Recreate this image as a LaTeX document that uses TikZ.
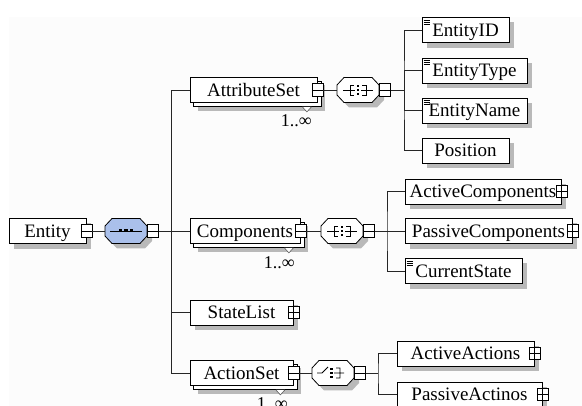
\documentclass[tikz,border=0pt]{standalone}
\usepackage{fontspec}
\setmainfont{Liberation Serif}
\usetikzlibrary{backgrounds}

\definecolor{shadowgray}{RGB}{185,185,185}
\definecolor{seqblue}{RGB}{170,192,235}
\definecolor{paper}{RGB}{252,252,252}

\tikzset{
  elem/.style={draw=black, fill=white, line width=0.8pt, inner sep=0pt,
    minimum height=25pt, text height=13pt, text depth=0.8pt,
    font=\fontsize{19}{21}\selectfont},
  toggle/.style={draw=black, fill=white, line width=0.6pt, inner sep=0pt,
    minimum width=11pt, minimum height=12.5pt},
  minusbox/.style={toggle, path picture={
    \draw[line width=0.6pt] (path picture bounding box.west) -- (path picture bounding box.east);}},
  plusbox/.style={toggle, path picture={
    \draw[line width=0.6pt] (path picture bounding box.west) -- (path picture bounding box.east)
      (path picture bounding box.north) -- (path picture bounding box.south);}},
  groupnode/.style={inner sep=0pt, minimum width=42pt, minimum height=25pt},
  link/.style={draw=black!85, line width=0.8pt},
  occurs/.style={inner sep=0pt, anchor=east, text height=13pt, text depth=0.8pt,
    font=\fontsize{18}{20}\selectfont},
  markpen/.style={line width=0.8pt},
}

% grey drop shadow behind a box node
\newcommand\castshadow[2]{%
  \fill[shadowgray] ([shift={(#2,#2)}]#1.north west) rectangle ([shift={(#2,#2)}]#1.south east);}
% second outline behind an element that may repeat
\newcommand\backcopy[1]{%
  \filldraw[draw=black, fill=white, line width=0.8pt]
    ([shift={(4,4)}]#1.north west) rectangle ([shift={(4,4)}]#1.south east);}
% octagonal model-group outline around a centre point
\newcommand\octagon[3]{%
  \path[#3] ({#1-21},{#2-5}) -- ({#1-14},{#2-12.5}) -- ({#1+14},{#2-12.5}) -- ({#1+21},{#2-5})
    -- ({#1+21},{#2+5}) -- ({#1+14},{#2+12.5}) -- ({#1-14},{#2+12.5}) -- ({#1-21},{#2+5}) -- cycle;}
% sequence glyph
\newcommand\seqmark[1]{%
  \draw[markpen] ([xshift=-16pt]#1.center) -- ([xshift=16pt]#1.center);
  \foreach \d in {-5.5,0,5.5}
    \fill ([shift={(\d-1.8,-1.5)}]#1.center) rectangle ([shift={(\d+1.8,1.5)}]#1.center);}
% "all" glyph
\newcommand\allmark[1]{%
  \draw[markpen] ([xshift=-15pt]#1.center) -- ([xshift=-3pt]#1.center)
    ([shift={(-4,-5)}]#1.center) -- ([shift={(-8,-5)}]#1.center) -- ([shift={(-8,5)}]#1.center) -- ([shift={(-4,5)}]#1.center)
    ([shift={(4,-5)}]#1.center) -- ([shift={(8,-5)}]#1.center) -- ([shift={(8,5)}]#1.center) -- ([shift={(4,5)}]#1.center)
    ([xshift=3pt]#1.center) -- ([xshift=15pt]#1.center);
  \foreach \d in {-4,0,4}
    \fill ([shift={(-1.4,\d-1.3)}]#1.center) rectangle ([shift={(1.4,\d+1.3)}]#1.center);}
% choice glyph
\newcommand\choicemark[1]{%
  \draw[markpen] ([xshift=-16pt]#1.center) -- ([xshift=-11pt]#1.center) -- ([shift={(-5,-6)}]#1.center)
    ([shift={(3,-5)}]#1.center) -- ([shift={(7,-5)}]#1.center) -- ([shift={(7,5)}]#1.center) -- ([shift={(3,5)}]#1.center)
    ([xshift=1pt]#1.center) -- ([xshift=11pt]#1.center);
  \foreach \d in {-4,0,4}
    \fill ([shift={(-2.8,\d-1.4)}]#1.center) rectangle ([shift={(0.2,\d+1.4)}]#1.center);}
% simple-content icon in the top left corner of a box
\newcommand\texticon[1]{%
  \draw[line width=0.5pt] ([shift={(2,3)}]#1.north west) -- ++(6,0)
    ([shift={(2,5)}]#1.north west) -- ++(6,0) ([shift={(2,7)}]#1.north west) -- ++(6,0);}
% small occurrence notch under a repeating element
\newcommand\occursnotch[2]{%
  \filldraw[draw=black!65, fill=white, line width=0.6pt]
    ([shift={(-#2-4.5,4)}]#1.south east) -- ([shift={(-#2,9)}]#1.south east) -- ([shift={(-#2+4.5,4)}]#1.south east);}

\begin{document}
\begin{tikzpicture}[x=1pt, y=-1pt]
\useasboundingbox (0,0) rectangle (582,406);
\clip (0,0) rectangle (582,406);

% ---- element boxes ----
\node[elem, minimum width=77pt]  (entity) at (47.5,231)  {Entity};
\node[elem, minimum width=127pt] (attr)   at (253.5,90)  {AttributeSet};
\node[elem, minimum width=110pt] (comp)   at (245,231)   {Components};
\node[elem, minimum width=103pt] (slist)  at (241.5,312.5) {StateList};
\node[elem, minimum width=103pt] (aset)   at (241.5,373) {ActionSet};

\node[elem, minimum width=87pt]  (eid)   at (465.5,30)   {EntityID};
\node[elem, minimum width=105pt] (etype) at (474.5,70.5) {EntityType};
\node[elem, minimum width=105pt] (ename) at (474.5,110.5){EntityName};
\node[elem, minimum width=87pt]  (epos)  at (465.5,150.5){Position};

\node[elem, minimum width=156pt] (acomp)  at (483,191.5)  {ActiveComponents};
\node[elem, minimum width=167pt] (pcomp)  at (488.5,231)  {PassiveComponents};
\node[elem, minimum width=117pt] (cstate) at (463.5,271)  {CurrentState};

\node[elem, minimum width=137pt] (aact) at (465.5,353.5) {ActiveActions};
\node[elem, minimum width=145pt] (pact) at (469.5,394.5) {PassiveActinos};

% ---- model groups ----
\node[groupnode] (seq)     at (126,231) {};
\node[groupnode] (attr-g)  at (358,90)  {};
\node[groupnode] (comp-g)  at (342,231) {};
\node[groupnode] (aset-g)  at (333,373) {};

% ---- expand / collapse toggles ----
\node[minusbox] (entity-t) at (entity.east) {};
\node[minusbox] (attr-t)   at (attr.east) {};
\node[minusbox] (comp-t)   at (comp.east) {};
\node[plusbox]  (slist-t)  at (slist.east) {};
\node[minusbox] (aset-t)   at (aset.east) {};
\node[plusbox]  (acomp-t)  at (acomp.east) {};
\node[plusbox]  (pcomp-t)  at (pcomp.east) {};
\node[plusbox]  (aact-t)   at (aact.east) {};
\node[plusbox]  (pact-t)   at (pact.east) {};
\node[minusbox, anchor=west] (seq-t)    at (seq.east) {};
\node[minusbox, anchor=west] (attr-gt)  at (attr-g.east) {};
\node[minusbox, anchor=west] (comp-gt)  at (comp-g.east) {};
\node[minusbox, anchor=west] (aset-gt)  at (aset-g.east) {};

% ---- occurrence labels ----
\node[occurs] (attr-occ) at (312,120) {1..∞};
\node[occurs] (comp-occ) at (295,262) {1..∞};
\node[occurs] (aset-occ) at (288,403) {1..∞};

% ---- shadows, repeated outlines and group outlines ----
\begin{scope}[on background layer]
  \fill[paper] (9,17) rectangle (582,406);
  \castshadow{entity}{5}
  \castshadow{attr}{8}  \backcopy{attr}
  \castshadow{comp}{8}  \backcopy{comp}
  \castshadow{slist}{5}
  \castshadow{aset}{8}  \backcopy{aset}
  \castshadow{eid}{5}
  \castshadow{etype}{5}
  \castshadow{ename}{5}
  \castshadow{epos}{5}
  \castshadow{acomp}{5}
  \castshadow{pcomp}{5}
  \castshadow{cstate}{5}
  \castshadow{aact}{5}
  \castshadow{pact}{5}
  \octagon{131}{236}{fill=shadowgray}
  \octagon{126}{231}{fill=seqblue, draw=black, line width=0.8pt}
  \octagon{363}{95}{fill=shadowgray}
  \octagon{358}{90}{fill=white, draw=black, line width=0.8pt}
  \octagon{347}{236}{fill=shadowgray}
  \octagon{342}{231}{fill=white, draw=black, line width=0.8pt}
  \octagon{338}{378}{fill=shadowgray}
  \octagon{333}{373}{fill=white, draw=black, line width=0.8pt}
\end{scope}

% ---- group glyphs and icons ----
\seqmark{seq}
\allmark{attr-g}
\allmark{comp-g}
\choicemark{aset-g}
\texticon{eid}
\texticon{etype}
\texticon{ename}
\texticon{cstate}
\occursnotch{attr}{10.5}
\occursnotch{comp}{11.5}
\occursnotch{aset}{13}

% ---- connectors ----
\coordinate (trunk)  at (171.5,231);
\coordinate (attr-j) at (404,90);
\coordinate (comp-j) at (387,231);
\coordinate (aset-j) at (378,373);

\draw[link] (entity-t.east) -- (seq.west);
\draw[link] (seq-t.east) -- (comp.west);
\draw[link] (attr.west) -| (trunk) |- (aset.west);
\draw[link] (trunk) |- (slist.west);

\draw[link] (attr-t.east) -- (attr-g.west);
\draw[link] (attr-gt.east) -- (attr-j);
\draw[link] (eid.west) -| (attr-j) |- (epos.west);
\draw[link] (attr-j) |- (etype.west);
\draw[link] (attr-j) |- (ename.west);

\draw[link] (comp-t.east) -- (comp-g.west);
\draw[link] (comp-gt.east) -- (pcomp.west);
\draw[link] (acomp.west) -| (comp-j) |- (cstate.west);

\draw[link] (aset-t.east) -- (aset-g.west);
\draw[link] (aset-gt.east) -- (aset-j);
\draw[link] (aact.west) -| (aset-j) |- (pact.west);
\end{tikzpicture}
\end{document}
